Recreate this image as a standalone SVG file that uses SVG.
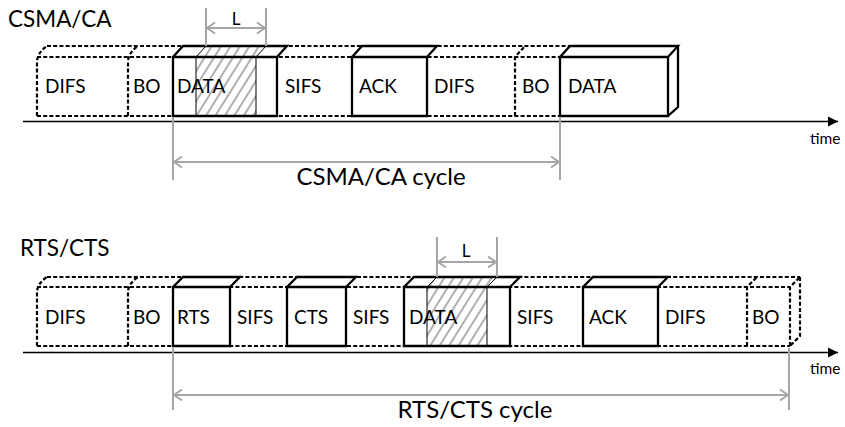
<svg xmlns="http://www.w3.org/2000/svg" width="845" height="427" viewBox="0 0 845 427">
<style>
text{font-family:Lato,"Liberation Sans",sans-serif;fill:#000}
.lbl{font-size:19px}
.ttl{font-size:22.5px}
.cyc{font-size:24px}
.lt{font-size:17px}
.tm{font-size:15.5px}
.d{fill:none;stroke:#000;stroke-width:2.2;stroke-dasharray:4 2.2}
.s{fill:none;stroke:#000;stroke-width:2.3;stroke-linejoin:miter}
.sf{fill:#fff;stroke:none}
.h{fill:url(#hatch);stroke:#000;stroke-width:1}
.g{fill:none;stroke:#a6a6a6;stroke-width:2}
.ax{fill:none;stroke:#000;stroke-width:1.6}
</style>
<defs>
<pattern id="hatch" patternUnits="userSpaceOnUse" width="8" height="8" patternTransform="rotate(32)">
<rect width="8" height="8" fill="#fff"/>
<line x1="4" y1="-1" x2="4" y2="9" stroke="#606060" stroke-width="1"/>
</pattern>
<marker id="chev" markerUnits="userSpaceOnUse" markerWidth="12" markerHeight="14" viewBox="-10 -7 12 14" refX="0" refY="0" orient="auto-start-reverse">
<path d="M-8,-5.5 L0,0 L-8,5.5" fill="none" stroke="#a6a6a6" stroke-width="2"/>
</marker>
<marker id="tri" markerUnits="userSpaceOnUse" markerWidth="12" markerHeight="12" viewBox="-11 -6 12 12" refX="0" refY="0" orient="auto">
<path d="M-10,-5 L0,0 L-10,5 Z" fill="#000"/>
</marker>
</defs>

<text class="ttl" x="8" y="27">CSMA/CA</text>
<text class="ttl" x="20" y="256">RTS/CTS</text>

<!-- CSMA/CA row -->
<g id="csma-frame">
<path class="d" d="M47,46 H570 M37,57 H560 M37,116 H560 M37,116 V61 Q38,52 47,46 M128,116 V61 Q129,52 138,46 M515,116 V57 L525,46"/>
</g>
<g id="csma-difs1"><text class="lbl" x="45" y="93">DIFS</text></g>
<g id="csma-bo1"><text class="lbl" x="133" y="93">BO</text></g>
<g id="csma-data1">
<path class="sf" d="M173,57 L183,46 H287 L277,57 Z"/>
<rect class="sf" x="173" y="57" width="104" height="59"/>
<path class="h" d="M196,57 L206,46 H266 L256,57 Z"/>
<rect class="h" x="196" y="57" width="60" height="59"/>
<path class="s" d="M173,57 L183,46 H287 L277,57 M173,57 H277 V116 H173 Z"/>
<text class="lbl" x="177" y="93">DATA</text>
</g>
<g id="csma-sifs"><text class="lbl" x="285" y="93">SIFS</text></g>
<g id="csma-ack">
<path class="s" d="M352,57 L362,46 H437 L427,57 M352,57 H427 V116 H352 Z"/>
<text class="lbl" x="359" y="93">ACK</text>
</g>
<g id="csma-difs2"><text class="lbl" x="434" y="93">DIFS</text></g>
<g id="csma-bo2"><text class="lbl" x="522" y="93">BO</text></g>
<g id="csma-data2">
<path class="s" d="M560,57 L570,46 H678 L668,57 M678,46 V107 L668,116 M560,57 H668 V116 H560 Z"/>
<text class="lbl" x="568" y="93">DATA</text>
</g>

<!-- RTS/CTS row -->
<g id="rts-frame">
<path class="d" d="M47,277 H800 M37,287 H790 M37,346 H790 M37,346 V291 Q38,283 47,277 M128,346 V291 Q129,283 138,277 M747,346 V287 L757,277 M790,346 V287 L800,277 M800,277 V336 L790,346"/>
</g>
<g id="rts-difs1"><text class="lbl" x="45" y="324">DIFS</text></g>
<g id="rts-bo1"><text class="lbl" x="133" y="324">BO</text></g>
<g id="rts-rts">
<path class="s" d="M173,287 L183,277 H240 L230,287 M173,287 H230 V346 H173 Z"/>
<text class="lbl" x="177" y="324">RTS</text>
</g>
<g id="rts-sifs1"><text class="lbl" x="237" y="324">SIFS</text></g>
<g id="rts-cts">
<path class="s" d="M287,287 L297,277 H356 L346,287 M287,287 H346 V346 H287 Z"/>
<text class="lbl" x="294" y="324">CTS</text>
</g>
<g id="rts-sifs2"><text class="lbl" x="353" y="324">SIFS</text></g>
<g id="rts-data">
<path class="sf" d="M404,287 L414,277 H520 L510,287 Z"/>
<rect class="sf" x="404" y="287" width="106" height="59"/>
<path class="h" d="M427,287 L437,277 H497 L487,287 Z"/>
<rect class="h" x="427" y="287" width="60" height="59"/>
<path class="s" d="M404,287 L414,277 H520 L510,287 M404,287 H510 V346 H404 Z"/>
<text class="lbl" x="409" y="324">DATA</text>
</g>
<g id="rts-sifs3"><text class="lbl" x="517" y="324">SIFS</text></g>
<g id="rts-ack">
<path class="s" d="M583,287 L593,277 H668 L658,287 M583,287 H658 V346 H583 Z"/>
<text class="lbl" x="589" y="324">ACK</text>
</g>
<g id="rts-difs2"><text class="lbl" x="665" y="324">DIFS</text></g>
<g id="rts-bo2"><text class="lbl" x="752" y="324">BO</text></g>

<!-- connectors / axes / dimensions -->
<g id="connectors">
<path class="ax" d="M23,121.5 H838" marker-end="url(#tri)"/>
<path class="ax" d="M23,352.5 H838" marker-end="url(#tri)"/>
<path class="g" d="M206,8 V46 M266,8 V46"/>
<path class="g" d="M207,28 H265" marker-start="url(#chev)" marker-end="url(#chev)"/>
<path class="g" d="M437,237 V277 M497,237 V277"/>
<path class="g" d="M438,262 H496" marker-start="url(#chev)" marker-end="url(#chev)"/>
<path class="g" d="M173,118 V180 M560,118 V180"/>
<path class="g" d="M174,162 H559" marker-start="url(#chev)" marker-end="url(#chev)"/>
<path class="g" d="M173,348 V410 M789,348 V410"/>
<path class="g" d="M174,395 H788" marker-start="url(#chev)" marker-end="url(#chev)"/>
</g>
<text class="lt" x="236" y="25" text-anchor="middle">L</text>
<text class="lt" x="466" y="257" text-anchor="middle">L</text>
<text class="tm" x="810" y="144">time</text>
<text class="tm" x="810" y="374">time</text>
<text class="cyc" x="381" y="185" text-anchor="middle">CSMA/CA cycle</text>
<text class="cyc" x="475" y="418" text-anchor="middle">RTS/CTS cycle</text>
</svg>
